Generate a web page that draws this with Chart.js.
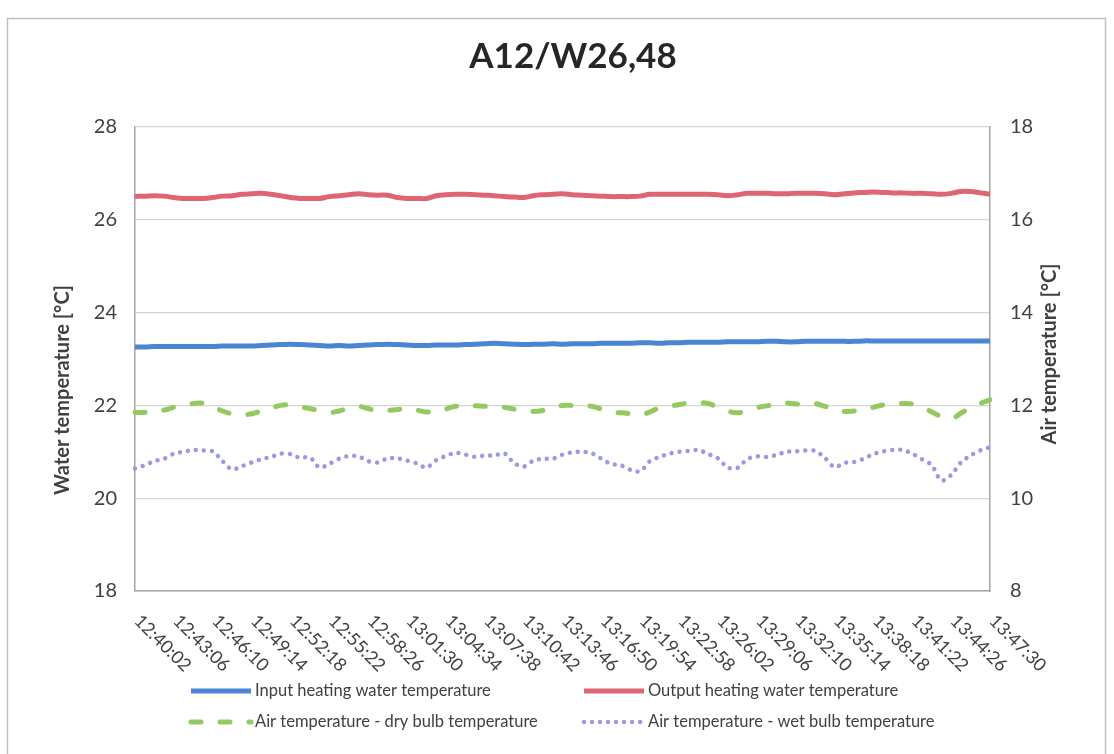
<!DOCTYPE html>
<html>
<head>
<meta charset="utf-8">
<script src="https://cdn.jsdelivr.net/npm/chart.js@4.4.1/dist/chart.umd.min.js"></script>
<style>
  html, body { margin: 0; padding: 0; background: #fff; }
  #wrap { position: relative; width: 1114px; height: 754px; }
</style>
</head>
<body>
<div id="wrap"><canvas id="chart" width="1114" height="754"></canvas></div>
<script>
// sample times, one every 46 s (every 4th one is labelled)
const times = [
  '12:40:02','12:40:48','12:41:34','12:42:20','12:43:06','12:43:52','12:44:38','12:45:24',
  '12:46:10','12:46:56','12:47:42','12:48:28','12:49:14','12:50:00','12:50:46','12:51:32',
  '12:52:18','12:53:04','12:53:50','12:54:36','12:55:22','12:56:08','12:56:54','12:57:40',
  '12:58:26','12:59:12','12:59:58','13:00:44','13:01:30','13:02:16','13:03:02','13:03:48',
  '13:04:34','13:05:20','13:06:06','13:06:52','13:07:38','13:08:24','13:09:10','13:09:56',
  '13:10:42','13:11:28','13:12:14','13:13:00','13:13:46','13:14:32','13:15:18','13:16:04',
  '13:16:50','13:17:36','13:18:22','13:19:08','13:19:54','13:20:40','13:21:26','13:22:12',
  '13:22:58','13:23:44','13:24:30','13:25:16','13:26:02','13:26:48','13:27:34','13:28:20',
  '13:29:06','13:29:52','13:30:38','13:31:24','13:32:10','13:32:56','13:33:42','13:34:28',
  '13:35:14','13:36:00','13:36:46','13:37:32','13:38:18','13:39:04','13:39:50','13:40:36',
  '13:41:22','13:42:08','13:42:54','13:43:40','13:44:26','13:45:12','13:45:58','13:46:44',
  '13:47:30'
]
const labelEvery = 4

// water temperatures, left axis [°C]
const inputWater = [
  23.26, 23.26, 23.27, 23.27, 23.27, 23.27, 23.27, 23.27, 23.27, 23.28, 23.28, 23.28, 23.28, 23.29,
  23.30, 23.31, 23.32, 23.31, 23.30, 23.29, 23.28, 23.29, 23.28, 23.29, 23.30, 23.31, 23.32, 23.31,
  23.30, 23.29, 23.29, 23.30, 23.30, 23.30, 23.31, 23.32, 23.33, 23.34, 23.33, 23.32, 23.31, 23.32,
  23.32, 23.33,
  23.32, 23.33, 23.33, 23.33, 23.34, 23.34, 23.34, 23.34, 23.35, 23.35, 23.34, 23.35, 23.35, 23.36,
  23.36, 23.36, 23.36, 23.37, 23.37, 23.37, 23.37, 23.38, 23.38, 23.37, 23.37, 23.38, 23.38, 23.38,
  23.38, 23.38, 23.38, 23.39, 23.39, 23.39, 23.39, 23.39, 23.39, 23.39, 23.39, 23.39, 23.39, 23.39,
  23.39, 23.39, 23.39
]
const outputWater = [
  26.50, 26.51, 26.52, 26.51, 26.48, 26.46, 26.46, 26.46, 26.48, 26.51, 26.52, 26.55, 26.56, 26.57,
  26.55, 26.52, 26.48, 26.46, 26.46, 26.46, 26.50, 26.52, 26.54, 26.56, 26.54, 26.53, 26.53, 26.48,
  26.46, 26.46, 26.46, 26.52, 26.54, 26.55, 26.55, 26.54, 26.53, 26.52, 26.50, 26.49, 26.48, 26.52,
  26.54, 26.55, 26.56, 26.54, 26.53, 26.52, 26.51, 26.50, 26.50, 26.50, 26.51, 26.55, 26.55, 26.55,
  26.55, 26.55, 26.55, 26.55, 26.54, 26.52, 26.54, 26.57, 26.57, 26.57, 26.56, 26.56, 26.57, 26.57,
  26.57, 26.56, 26.54, 26.56, 26.58, 26.59, 26.60, 26.59, 26.58, 26.58, 26.57, 26.57, 26.56, 26.55,
  26.57, 26.61, 26.61, 26.58, 26.55
]

// air temperatures, right axis [°C]
const dryBulb = [
  11.85, 11.85, 11.87, 11.90, 11.96, 12.01, 12.04, 12.05, 11.98, 11.88, 11.82, 11.80, 11.82, 11.88,
  11.94, 12.00, 12.01, 11.97, 11.93, 11.89, 11.85, 11.88, 11.94, 11.98, 11.93, 11.88, 11.89, 11.91,
  11.94, 11.90, 11.86, 11.86, 11.92, 11.98, 11.99, 11.99, 11.98, 11.98, 11.96, 11.92, 11.89, 11.87,
  11.89, 11.95, 12.00, 12.00, 12.00, 11.98, 11.92, 11.85, 11.84, 11.82, 11.79, 11.86, 11.95, 11.98,
  12.02, 12.05, 12.06, 12.04, 11.96, 11.88, 11.84, 11.88, 11.95, 11.99, 12.02, 12.05, 12.03, 12.03,
  12.04, 11.98, 11.93, 11.87, 11.88, 11.92, 11.96, 12.01, 12.04, 12.04, 12.03, 11.96, 11.86, 11.76,
  11.71, 11.83, 11.95, 12.04, 12.12
]
const wetBulb = [
  10.64, 10.71, 10.80, 10.85, 10.96, 11.00, 11.04, 11.03, 11.01, 10.80, 10.62, 10.69, 10.77, 10.84,
  10.89, 10.96, 10.95, 10.87, 10.88, 10.66, 10.74, 10.85, 10.91, 10.90, 10.80, 10.77, 10.86, 10.86,
  10.81, 10.75, 10.66, 10.82, 10.91, 10.98, 10.94, 10.89, 10.92, 10.92, 10.97, 10.76, 10.68, 10.81,
  10.85, 10.85, 10.94, 10.99, 11.00, 10.97, 10.85, 10.74, 10.71, 10.61, 10.58, 10.80, 10.89, 10.96,
  11.00, 11.02, 11.04, 10.95, 10.86, 10.66, 10.65, 10.84, 10.90, 10.89, 10.93, 11.00, 11.01, 11.03,
  11.02, 10.87, 10.67, 10.76, 10.78, 10.85, 10.95, 11.01, 11.04, 11.04, 10.96, 10.84, 10.71, 10.38,
  10.50, 10.77, 10.92, 11.03, 11.10
]

const waterTicks = { min: 18, max: 28, step: 2 }
const airTicks = { min: 8, max: 18, step: 2 }

const textGrey = '#404040'

// axis titles, legend and the outer frame are drawn by hand (2x2 legend grid,
// both vertical titles read bottom to top like the original)
const extras = {
  id: 'extras',
  beforeDraw(chart) {
    const ctx = chart.ctx
    ctx.save()
    ctx.strokeStyle = '#bfbfbf'
    ctx.lineWidth = 1.5
    ctx.strokeRect(7.5, 18.5, 1098, 800)
    ctx.restore()
  },
  afterDraw(chart) {
    const ctx = chart.ctx
    ctx.save()
    ctx.fillStyle = textGrey
    ctx.font = 'bold 20px Lato'
    ctx.textAlign = 'center'
    ctx.textBaseline = 'middle'
    ctx.translate(63, 390)
    ctx.rotate(-Math.PI / 2)
    ctx.fillText('Water temperature [°C]', 0, 0)
    ctx.restore()

    ctx.save()
    ctx.fillStyle = textGrey
    ctx.font = 'bold 20px Lato'
    ctx.textAlign = 'center'
    ctx.textBaseline = 'middle'
    ctx.translate(1050, 354)
    ctx.rotate(-Math.PI / 2)
    ctx.fillText('Air temperature [°C]', 0, 0)
    ctx.restore()

    // legend
    const spots = [
      { x: 191, y: 691 },
      { x: 584, y: 691 },
      { x: 191, y: 722 },
      { x: 584, y: 722 },
    ]
    chart.data.datasets.forEach((ds, i) => {
      const p = spots[i]
      ctx.save()
      ctx.strokeStyle = ds.borderColor
      ctx.lineWidth = ds.borderWidth
      ctx.lineCap = ds.borderCapStyle || 'butt'
      ctx.setLineDash(ds.borderDash || [])
      ctx.beginPath()
      ctx.moveTo(p.x, p.y)
      ctx.lineTo(p.x + 60, p.y)
      ctx.stroke()
      ctx.setLineDash([])
      ctx.fillStyle = textGrey
      ctx.font = '16.5px Lato'
      ctx.textBaseline = 'middle'
      ctx.fillText(ds.label, p.x + 64, p.y)
      ctx.restore()
    })
  },
}

new Chart(document.getElementById('chart'), {
  type: 'line',
  data: {
    labels: times,
    datasets: [
      {
        label: 'Input heating water temperature',
        data: inputWater,
        yAxisID: 'water',
        borderColor: '#4a84d4',
        borderWidth: 5,
        pointRadius: 0,
        tension: 0.4,
      },
      {
        label: 'Output heating water temperature',
        data: outputWater,
        yAxisID: 'water',
        borderColor: '#de6672',
        borderWidth: 5,
        pointRadius: 0,
        tension: 0.4,
      },
      {
        label: 'Air temperature - dry bulb temperature',
        data: dryBulb,
        yAxisID: 'air',
        borderColor: '#93c961',
        borderWidth: 5,
        borderDash: [10, 19],
        borderCapStyle: 'round',
        pointRadius: 0,
        tension: 0.4,
      },
      {
        label: 'Air temperature - wet bulb temperature',
        data: wetBulb,
        yAxisID: 'air',
        borderColor: '#9a9ae2',
        borderWidth: 4.5,
        borderDash: [0.01, 8],
        borderCapStyle: 'round',
        pointRadius: 0,
        tension: 0.3,
      },
    ],
  },
  options: {
    responsive: false,
    animation: false,
    layout: { padding: { left: 32, right: 0, top: 0, bottom: 0 } },
    plugins: {
      legend: { display: false },
      tooltip: { enabled: false },
      title: {
        display: true,
        text: 'A12/W26,48',
        color: '#262626',
        font: { family: 'Lato', size: 35, weight: 'bold' },
        padding: { top: 36, bottom: 49 },
      },
    },
    scales: {
      x: {
        grid: { display: false, drawTicks: false },
        border: { display: true, color: '#a6a6a6', width: 1.5 },
        ticks: {
          autoSkip: false,
          minRotation: -45,
          maxRotation: -45,
          labelOffset: 53,
          padding: 70,
          color: textGrey,
          font: { family: 'Lato', size: 18 },
          callback: (v, i) => (i % labelEvery === 0 ? times[i] : ''),
        },
        afterFit: (s) => {
          s.height = 163
          s.paddingLeft = 0
          s.paddingRight = 0
        },
      },
      water: {
        position: 'left',
        min: waterTicks.min,
        max: waterTicks.max,
        grid: { color: '#d4d4d4', lineWidth: 1.3, drawTicks: false },
        border: { display: true, color: '#a6a6a6', width: 1.5 },
        ticks: {
          stepSize: waterTicks.step,
          padding: 18,
          color: textGrey,
          font: { family: 'Lato', size: 20 },
        },
        afterFit: (s) => {
          s.width = 103
          s.paddingTop = 0
          s.paddingBottom = 0
        },
      },
      air: {
        position: 'right',
        min: airTicks.min,
        max: airTicks.max,
        grid: { display: false, drawTicks: false },
        border: { display: true, color: '#a6a6a6', width: 1.5 },
        ticks: {
          stepSize: airTicks.step,
          padding: 20,
          color: textGrey,
          font: { family: 'Lato', size: 20 },
        },
        afterFit: (s) => {
          s.width = 124
          s.paddingTop = 0
          s.paddingBottom = 0
        },
      },
    },
  },
  plugins: [extras],
})
</script>
</body>
</html>
